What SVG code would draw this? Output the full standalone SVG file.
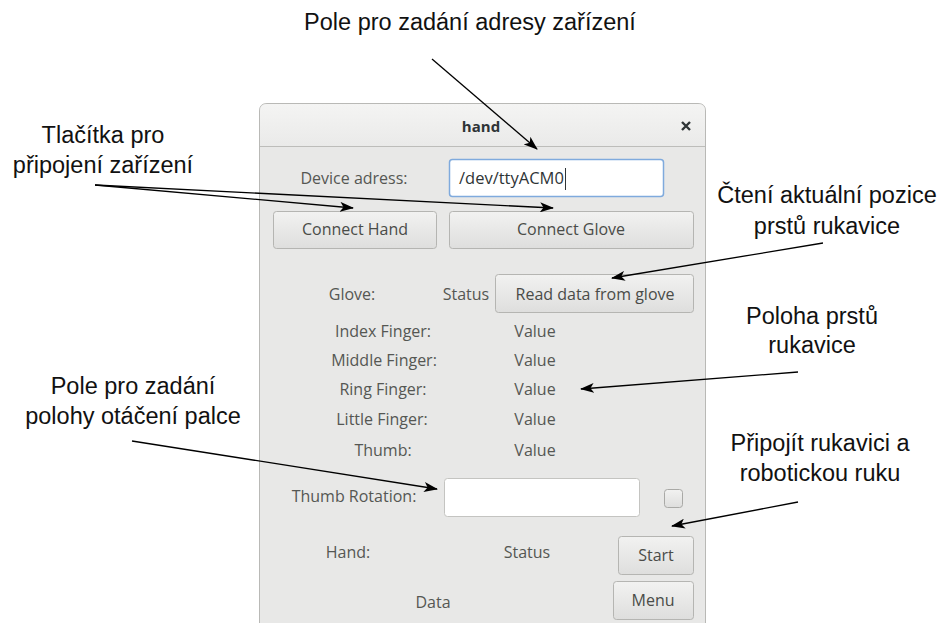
<svg xmlns="http://www.w3.org/2000/svg" width="940" height="623" viewBox="0 0 940 623">
<defs>
<linearGradient id="btn" x1="0" y1="0" x2="0" y2="1"><stop offset="0" stop-color="#f2f2f1"/><stop offset="1" stop-color="#dededd"/></linearGradient>
<linearGradient id="tb" x1="0" y1="0" x2="0" y2="1"><stop offset="0" stop-color="#f4f4f3"/><stop offset="1" stop-color="#eaeae9"/></linearGradient>
<marker id="ah" viewBox="0 0 14 10" refX="13" refY="5" markerWidth="14" markerHeight="10" markerUnits="userSpaceOnUse" orient="auto"><path d="M0,0 L14,5 L0,10 L3.5,5 Z" fill="#000"/></marker>
</defs>
<style>
.ann{font-family:"Liberation Sans",Arial,sans-serif;font-size:23.5px;fill:#111;text-anchor:middle}
.ui{font-family:"Open Sans","Noto Sans",sans-serif;font-size:16px;fill:#555753;text-anchor:middle}
.bt{font-family:"Open Sans","Noto Sans",sans-serif;font-size:16px;fill:#4a4c48;text-anchor:middle}
.b{fill:url(#btn);stroke:#b5b5b2;stroke-width:1}
.c{stroke:#000;stroke-width:1.3;fill:none;marker-end:url(#ah)}
</style>
<rect width="940" height="623" fill="#fff"/>
<g id="window">
<path d="M259.5,623 L259.5,111 Q259.5,103.5 267,103.5 L698,103.5 Q705.5,103.5 705.5,111 L705.5,623" fill="#e8e8e7" stroke="#b9b9b6"/>
<path d="M260,146 L260,111 Q260,104 267,104 L698,104 Q705,104 705,111 L705,146 Z" fill="url(#tb)"/>
<line x1="260" y1="146.5" x2="705" y2="146.5" stroke="#bdbdba"/>
<text x="481" y="132" style="font-family:'Open Sans','Noto Sans',sans-serif;font-size:15px;font-weight:bold;fill:#2e3436;text-anchor:middle">hand</text>
<path d="M682,122 L690,130 M690,122 L682,130" stroke="#2e3436" stroke-width="2.4"/>
</g>
<g id="device-address">
<text class="ui" x="354" y="184">Device adress:</text>
<rect x="449.5" y="159.5" width="214" height="37" rx="3" fill="#fff" stroke="#7faadd" stroke-width="1.5"/>
<text x="459" y="184" style="font-family:'Open Sans','Noto Sans',sans-serif;font-size:16.5px;fill:#2e3436">/dev/ttyACM0</text>
<line x1="565.5" y1="168" x2="565.5" y2="190" stroke="#2e3436"/>
</g>
<g id="btn-connect-hand"><rect class="b" x="273.5" y="211.5" width="163" height="37" rx="3"/><text class="bt" x="355" y="235">Connect Hand</text></g>
<g id="btn-connect-glove"><rect class="b" x="449.5" y="211.5" width="244" height="37" rx="3"/><text class="bt" x="571" y="235">Connect Glove</text></g>
<g id="glove-row">
<text class="ui" x="352" y="300">Glove:</text>
<text class="ui" x="466" y="300">Status</text>
<rect class="b" x="495.5" y="274.5" width="198" height="38" rx="3"/><text class="bt" x="595" y="300">Read data from glove</text>
</g>
<g id="fingers">
<text class="ui" x="383" y="337">Index Finger:</text><text class="ui" x="535" y="337">Value</text>
<text class="ui" x="384" y="366">Middle Finger:</text><text class="ui" x="535" y="366">Value</text>
<text class="ui" x="383" y="395">Ring Finger:</text><text class="ui" x="535" y="395">Value</text>
<text class="ui" x="382" y="425">Little Finger:</text><text class="ui" x="535" y="425">Value</text>
<text class="ui" x="383" y="456">Thumb:</text><text class="ui" x="535" y="456">Value</text>
</g>
<g id="thumb-rotation">
<text class="ui" x="354" y="502">Thumb Rotation:</text>
<rect x="444.5" y="478.5" width="195" height="38" rx="3" fill="#fff" stroke="#c4c4c1"/>
<rect x="664.5" y="489.5" width="18" height="18" rx="3" fill="url(#btn)" stroke="#a9a9a6"/>
</g>
<g id="hand-row">
<text class="ui" x="348" y="558">Hand:</text>
<text class="ui" x="527" y="558">Status</text>
<rect class="b" x="618.5" y="536.5" width="75" height="38" rx="3"/><text class="bt" x="656" y="561">Start</text>
</g>
<g id="data-row">
<text class="ui" x="433" y="608">Data</text>
<rect class="b" x="613.5" y="581.5" width="80" height="38" rx="3"/><text class="bt" x="653" y="606">Menu</text>
</g>
<g id="annotations">
<text class="ann" x="470" y="30">Pole pro zadání adresy zařízení</text>
<text class="ann" x="103" y="143">Tlačítka pro</text>
<text class="ann" x="103" y="173">připojení zařízení</text>
<text class="ann" x="827" y="203">Čtení aktuální pozice</text>
<text class="ann" x="827" y="234">prstů rukavice</text>
<text class="ann" x="812" y="324">Poloha prstů</text>
<text class="ann" x="812" y="353">rukavice</text>
<text class="ann" x="133" y="394">Pole pro zadání</text>
<text class="ann" x="133" y="424">polohy otáčení palce</text>
<text class="ann" x="820" y="451">Připojít rukavici a</text>
<text class="ann" x="820" y="481">robotickou ruku</text>
</g>
<g id="connectors">
<line class="c" x1="432" y1="59" x2="537" y2="149"/>
<line class="c" x1="95" y1="185" x2="353" y2="208"/>
<line class="c" x1="95" y1="185" x2="553" y2="208"/>
<line class="c" x1="823" y1="243" x2="612" y2="278"/>
<line class="c" x1="798" y1="372" x2="581" y2="389"/>
<line class="c" x1="132" y1="441" x2="437" y2="489"/>
<line class="c" x1="798" y1="502" x2="672" y2="526"/>
</g>
</svg>
